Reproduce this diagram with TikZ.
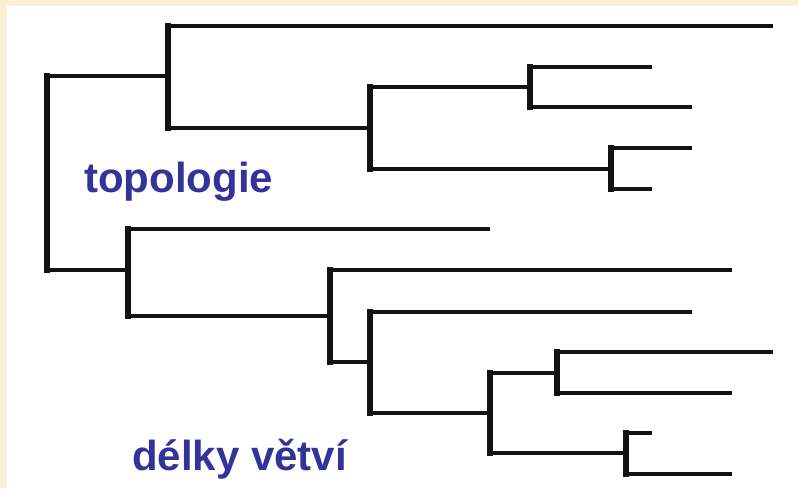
\documentclass[tikz,border=0pt]{standalone}
\usepackage{fontspec}
\setmainfont{Liberation Sans}
\usepackage{xcolor}
\usetikzlibrary{positioning}

\definecolor{cream}{RGB}{251,240,214}
\definecolor{tagblue}{RGB}{51,51,153}

\begin{document}
\begin{tikzpicture}[x=1bp, y=-1bp,
    vline/.style={line width=6.5bp, line cap=rect, black!93},
    hline/.style={line width=4.5bp, black!93},
    tag/.style={inner sep=0pt, text=tagblue, font=\fontsize{42bp}{48bp}\selectfont\bfseries}]
    % Background
    \fill[cream] (0,0) rectangle (798,488);
    \fill[white] (7,6) rectangle (798,488);
    \useasboundingbox (0,0) rectangle (798,488);

    % Inner nodes
    \coordinate (R) at (47,173);
    \coordinate (A) at (168,76);
    \coordinate (B) at (370,128);
    \coordinate (C) at (530,87);
    \coordinate (D) at (611,169);
    \coordinate (E) at (128,270);
    \coordinate (F) at (330,316);
    \coordinate (G) at (370,362);
    \coordinate (H) at (490,413);
    \coordinate (I) at (557,373);
    \coordinate (J) at (626,453);

    % Tips
    \coordinate (a1) at (773,26);
    \coordinate (c1) at (652,67);
    \coordinate (c2) at (692,107);
    \coordinate (d1) at (692,148);
    \coordinate (d2) at (652,189);
    \coordinate (e1) at (490,229);
    \coordinate (f1) at (732,270);
    \coordinate (g1) at (692,312);
    \coordinate (i1) at (773,352);
    \coordinate (i2) at (732,393);
    \coordinate (j1) at (652,433);
    \coordinate (j2) at (732,474);

    % Branches
    \foreach \p/\c in {R/A, R/E, A/a1, A/B, B/C, B/D, C/c1, C/c2, D/d1, D/d2,
                       E/e1, E/F, F/f1, F/G, G/g1, G/H, H/I, H/J,
                       I/i1, I/i2, J/j1, J/j2} {
        \draw[vline] (\p) -- (\p |- \c);
        \draw[hline] (\p |- \c) -- (\c);
    }

    % Labels
    \node[tag, anchor=base west] (topo) at (84,193) {topologie};
    \node[tag, anchor=base west] (delky) at (132,470) {délky větví};
\end{tikzpicture}
\end{document}
